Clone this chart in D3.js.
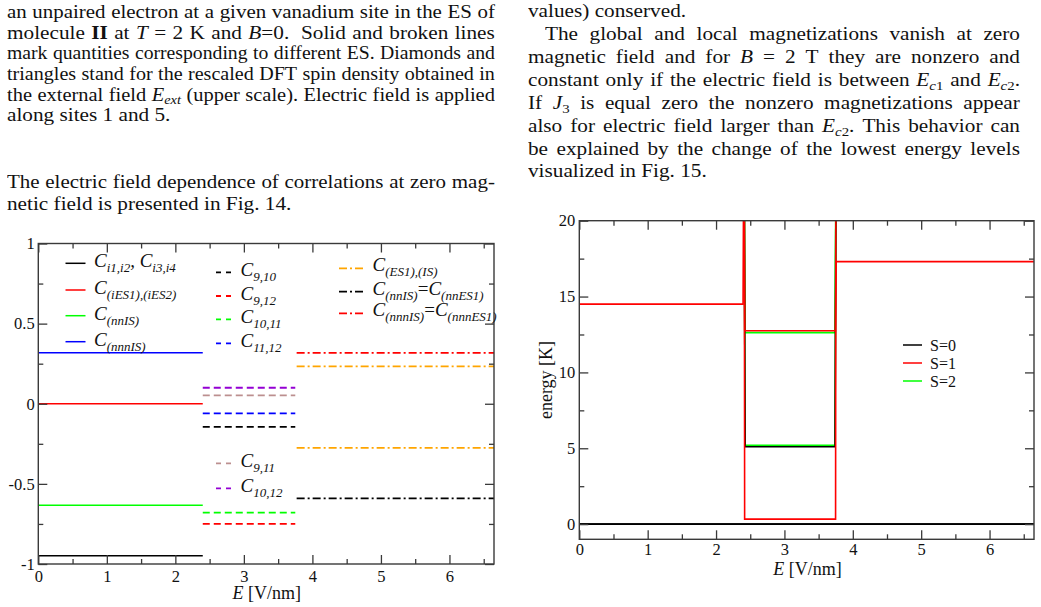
<!DOCTYPE html>
<html><head><meta charset="utf-8">
<script src="https://cdn.jsdelivr.net/npm/d3@7"></script>
<style>
html,body{margin:0;padding:0;background:#fff;}
#page{position:relative;width:1041px;height:607px;overflow:hidden;font-family:"Liberation Serif","Times New Roman",serif;}
.ln{position:absolute;font-size:18px;line-height:18px;white-space:nowrap;color:#111;transform-origin:0 0;}
.just{display:flex;justify-content:space-between;}
.sb{font-size:0.7em;position:relative;top:0.3em;}
.meas{position:absolute;visibility:hidden;font-size:18px;white-space:nowrap;}
svg{position:absolute;left:0;top:0;}
</style></head><body><div id="page"></div><script>
// ---------- Fig. 14 data (correlations vs E) ----------
const corrXTicks = [0, 1, 2, 3, 4, 5, 6];
const corrYTicks = [-1, -0.5, 0, 0.5, 1];
const esBreaks = [0, 2.40, 3.75, 6.65];           // E ranges of the three ES
const solidNames  = ["C_{i1,i2}, C_{i3,i4}", "C_{(iES1),(iES2)}", "C_{(nnIS)}", "C_{(nnnIS)}"];
const solidValues = [-0.948, 0.0, -0.633, 0.318];
const dashedNames  = ["C_{9,10}", "C_{9,12}", "C_{10,11}", "C_{11,12}", "C_{9,11}", "C_{10,12}"];
const dashedValues = [-0.144, -0.75, -0.68, -0.06, 0.052, 0.10];
const dashdotNames  = ["C_{(ES1),(IS)}", "C_{(nnIS)}=C_{(nnES1)}", "C_{(nnnIS)}=C_{(nnnES1)}", ""];
const dashdotValues = [0.233, -0.59, 0.318, -0.275];

// ---------- Fig. 15 data (energy levels vs E) ----------
const energyXTicks = [0, 1, 2, 3, 4, 5, 6];
const energyYTicks = [0, 5, 10, 15, 20];
const spinNames = ["S=0", "S=1", "S=2"];
const s0Levels = [
  [[0, 0], [6.65, 0]],
  [[2.41, 25], [2.425, 5.1], [3.74, 5.1], [3.755, 25]]
];
const s1Levels = [
  [[0, 14.5], [2.395, 14.5], [2.405, 25]],
  [[2.41, 25], [2.42, 12.75], [3.745, 12.75], [3.755, 17.3], [6.65, 17.3]],
  [[2.413, 25], [2.418, 0.33], [3.748, 0.33], [3.753, 25]]
];
const s2Levels = [
  [[2.41, 25], [2.425, 5.2], [3.74, 5.2], [3.755, 25]],
  [[2.41, 25], [2.425, 12.62], [3.74, 12.62], [3.755, 25]]
];

// ---------- page text ----------
const leftLines = [
  {b:18.3, j:1, h:"an unpaired electron at a given vanadium site in the ES of"},
  {b:38.9, j:1, h:"molecule <b>II</b> at <i>T</i> = 2 K and <i>B</i>=0. &nbsp;Solid and broken lines"},
  {b:59.5, j:1, h:"mark quantities corresponding to different ES. Diamonds and"},
  {b:80.1, j:1, h:"triangles stand for the rescaled DFT spin density obtained in"},
  {b:100.7, j:1, h:"the external field <i>E</i><span\u00a0class=sb><i>ext</i></span> (upper scale). Electric field is applied"},
  {b:121.3, j:0, h:"along sites 1 and 5."},
  {b:188.5, j:1, h:"The electric field dependence of correlations at zero mag-"},
  {b:210.3, j:0, h:"netic field is presented in Fig. 14."}
];
const rightLines = [
  {b:17.0, j:0, i:0, h:"values) conserved."},
  {b:40.0, j:1, i:1, h:"The global and local magnetizations vanish at zero"},
  {b:63.0, j:1, i:0, h:"magnetic field and for <i>B</i> = 2 T they are nonzero and"},
  {b:86.0, j:1, i:0, h:"constant only if the electric field is between <i>E</i><span\u00a0class=sb><i>c</i>1</span> and <i>E</i><span\u00a0class=sb><i>c</i>2</span>."},
  {b:109.0, j:1, i:0, h:"If <i>J</i><span\u00a0class=sb>3</span> is equal zero the nonzero magnetizations appear"},
  {b:132.0, j:1, i:0, h:"also for electric field larger than <i>E</i><span\u00a0class=sb><i>c</i>2</span>. This behavior can"},
  {b:155.0, j:1, i:0, h:"be explained by the change of the lowest energy levels"},
  {b:177.5, j:0, i:0, h:"visualized in Fig. 15."}
];

const page = d3.select("#page");
const STRETCH = 1.18;
function placeLines(lines, x, w) {
  lines.forEach(l => {
    const html = l.h.replace(/\u00a0class/g, " class");
    const indent = l.i ? 17 : 0;
    const avail = w - indent;
    const m = page.append("span").attr("class", "meas").html(html);
    const nat = m.node().getBoundingClientRect().width;
    m.remove();
    let s = STRETCH;
    if (l.j) s = Math.min(STRETCH, (avail - 4) / nat);
    const d = page.append("div").attr("class", "ln" + (l.j ? " just" : ""))
      .style("left", (x + indent) + "px").style("top", (l.b - 15.1) + "px")
      .style("transform", `scaleX(${s})`);
    if (l.j) {
      d.style("width", (avail / s) + "px");
      l.h.split(/ (?![^<]*>)/).forEach(wd => d.append("span").html(wd.replace(/\u00a0class/g, " class")));
    } else {
      d.html(html);
    }
  });
}
placeLines(leftLines, 7, 488);
placeLines(rightLines, 528, 492);

// ---------- SVG ----------
const SERIF = '"Liberation Serif","Times New Roman",serif';
const svg = page.append("svg").attr("width", 1041).attr("height", 607).attr("font-family", SERIF);

const FRAME = "#3a3a3a";
const TICKFONT = 16.5;

function richLabel(g, x, y, label, size, subSize, italic) {
  const t = g.append("text").attr("x", x).attr("y", y).attr("font-size", size).attr("fill", "#111")
    .attr("font-family", SERIF);
  const parts = label.split(/(_\{[^}]*\}|=)/).filter(s => s.length);
  let off = 0;
  parts.forEach(p => {
    const ts = t.append("tspan");
    let target = 0;
    if (p.startsWith("_{")) { target = 5; ts.attr("font-size", subSize).text(p.slice(2, -1)); }
    else ts.text(p);
    ts.attr("font-style", (p === "=" || !italic) ? "normal" : "italic");
    if (target !== off) { ts.attr("dy", target - off); off = target; }
  });
}

function frameAndAxes(g, x, y, L, R, T, B, xMaj, xMin, yMaj, yMin, yFmt, xPad, yPad) {
  const mk = (axis, sel, vals, size, fmt, pad) => {
    const a = axis.tickValues(vals).tickSizeInner(-size).tickSizeOuter(0).tickPadding(pad).tickFormat(fmt);
    sel.call(a);
    sel.attr("font-family", SERIF).attr("font-size", TICKFONT);
    sel.select(".domain").remove();
    sel.selectAll(".tick line").attr("stroke", FRAME).attr("stroke-width", 1.3);
    sel.selectAll(".tick text").attr("fill", "#111").attr("font-family", SERIF).attr("font-size", TICKFONT);
  };
  const none = () => "";
  mk(d3.axisBottom(x), g.append("g").attr("transform", `translate(0,${B})`), xMaj, 9, d => String(d), xPad);
  mk(d3.axisBottom(x), g.append("g").attr("transform", `translate(0,${B})`), xMin, 5, none, 3);
  mk(d3.axisTop(x), g.append("g").attr("transform", `translate(0,${T})`), xMaj, 9, none, 3);
  mk(d3.axisTop(x), g.append("g").attr("transform", `translate(0,${T})`), xMin, 5, none, 3);
  mk(d3.axisLeft(y), g.append("g").attr("transform", `translate(${L},0)`), yMaj, 9, yFmt, yPad);
  mk(d3.axisLeft(y), g.append("g").attr("transform", `translate(${L},0)`), yMin, 5, none, 3);
  mk(d3.axisRight(y), g.append("g").attr("transform", `translate(${R},0)`), yMaj, 9, none, 3);
  mk(d3.axisRight(y), g.append("g").attr("transform", `translate(${R},0)`), yMin, 5, none, 3);
  g.append("rect").attr("x", L).attr("y", T).attr("width", R - L).attr("height", B - T)
    .attr("fill", "none").attr("stroke", FRAME).attr("stroke-width", 1.4);
}

// ===== Left chart =====
{
  const L = 38.3, R = 494, T = 243.5, B = 564;
  const x = d3.scaleLinear().domain([0, 6.65]).range([L, R]);
  const y = d3.scaleLinear().domain([-1, 1]).range([B, T]);
  const g = svg.append("g");
  const line = d3.line().x(d => x(d[0])).y(d => y(d[1]));
  const solidColors = ["#000000", "#ff0000", "#00ff00", "#0000ff"];
  const dashedColors = ["#000000", "#ff0000", "#00ff00", "#0000ff", "#bc8f8f", "#9400d3"];
  const dashdotColors = ["#ffa500", "#000000", "#ff0000", "#ffa500"];
  const DASH = "7,4", DASHDOT = "8,3,2,3";
  const plot = g.append("g");
  solidValues.forEach((v, i) => plot.append("path").attr("d", line([[esBreaks[0], v], [esBreaks[1], v]]))
    .attr("stroke", solidColors[i]).attr("stroke-width", 1.5).attr("fill", "none"));
  dashedValues.forEach((v, i) => plot.append("path").attr("d", line([[esBreaks[1], v], [esBreaks[2], v]]))
    .attr("stroke", dashedColors[i]).attr("stroke-width", 1.8).attr("stroke-dasharray", DASH).attr("fill", "none"));
  dashdotValues.forEach((v, i) => plot.append("path").attr("d", line([[esBreaks[2] + 0.02, v], [esBreaks[3], v]]))
    .attr("stroke", dashdotColors[i]).attr("stroke-width", 1.8).attr("stroke-dasharray", DASHDOT).attr("fill", "none"));

  frameAndAxes(g, x, y, L, R, T, B, corrXTicks, d3.range(0.5, 6.6, 1), corrYTicks, [-0.75, -0.25, 0.25, 0.75],
    d => String(d), 5.8, 3.6);

  // legends
  const leg = g.append("g");
  const solidRows = [263.3, 290, 315.7, 341.7];
  solidNames.forEach((n, i) => {
    leg.append("line").attr("x1", 65.5).attr("x2", 85.5).attr("y1", solidRows[i]).attr("y2", solidRows[i])
      .attr("stroke", solidColors[i]).attr("stroke-width", 1.5);
    richLabel(leg, 94, solidRows[i] + 4, n, 19, 13, true);
  });
  const dashedRows = [272.3, 296, 319.3, 343.3, 463.3, 488.3];
  dashedNames.forEach((n, i) => {
    leg.append("line").attr("x1", 216).attr("x2", 231).attr("y1", dashedRows[i]).attr("y2", dashedRows[i])
      .attr("stroke", dashedColors[i]).attr("stroke-width", 1.8).attr("stroke-dasharray", "5,5");
    richLabel(leg, 240.5, dashedRows[i] + 3.5, n, 19, 13, true);
  });
  const ddRows = [268.3, 291.7, 313.3];
  dashdotNames.forEach((n, i) => {
    if (!n) return;
    leg.append("line").attr("x1", 339).attr("x2", 363.5).attr("y1", ddRows[i]).attr("y2", ddRows[i])
      .attr("stroke", dashdotColors[i]).attr("stroke-width", 1.8).attr("stroke-dasharray", DASHDOT);
    richLabel(leg, 372.5, ddRows[i] + 3, n, 19, 13, true);
  });

  const xl = g.append("text").attr("x", 266.7).attr("y", 598.5).attr("text-anchor", "middle")
    .attr("font-size", 18).attr("fill", "#111");
  xl.append("tspan").attr("font-style", "italic").text("E");
  xl.append("tspan").text(" [V/nm]");
}

// ===== Right chart =====
{
  const L = 579.3, R = 1034, T = 220.7, B = 539.3;
  const x = d3.scaleLinear().domain([0, 6.65]).range([L, R]);
  const y = d3.scaleLinear().domain([-1, 20]).range([B, T]);
  const g = svg.append("g");
  svg.append("clipPath").attr("id", "clipR").append("rect")
    .attr("x", L).attr("y", T).attr("width", R - L).attr("height", B - T);
  const line = d3.line().x(d => x(d[0])).y(d => y(d[1]));
  const spinColors = ["#000000", "#ff0000", "#00ff00"];
  const plot = g.append("g").attr("clip-path", "url(#clipR)");
  const draw = (levels, c) => levels.forEach(lv => plot.append("path").attr("d", line(lv))
    .attr("stroke", c).attr("stroke-width", 1.6).attr("fill", "none"));
  draw(s2Levels, spinColors[2]);
  draw(s0Levels, spinColors[0]);
  draw(s1Levels, spinColors[1]);
  // ground level drawn on top
  plot.append("path").attr("d", line(s0Levels[0])).attr("stroke", spinColors[0]).attr("stroke-width", 1.6).attr("fill", "none");

  frameAndAxes(g, x, y, L, R, T, B, energyXTicks, d3.range(0.5, 6.6, 1), energyYTicks, [2.5, 7.5, 12.5, 17.5],
    d => String(d), 4.0, 4);

  const rows = [345, 363, 381];
  spinNames.forEach((n, i) => {
    g.append("line").attr("x1", 903).attr("x2", 922).attr("y1", rows[i]).attr("y2", rows[i])
      .attr("stroke", spinColors[i]).attr("stroke-width", 1.5);
    g.append("text").attr("x", 930).attr("y", rows[i] + 5.8).attr("font-size", 16).attr("fill", "#111").text(n);
  });

  const xl = g.append("text").attr("x", 807.5).attr("y", 574.5).attr("text-anchor", "middle")
    .attr("font-size", 18).attr("fill", "#111");
  xl.append("tspan").attr("font-style", "italic").text("E");
  xl.append("tspan").text(" [V/nm]");
  g.append("text").attr("transform", "translate(552,380) rotate(-90)").attr("text-anchor", "middle")
    .attr("font-size", 18).attr("fill", "#111").text("energy [K]");
}
</script></body></html>
